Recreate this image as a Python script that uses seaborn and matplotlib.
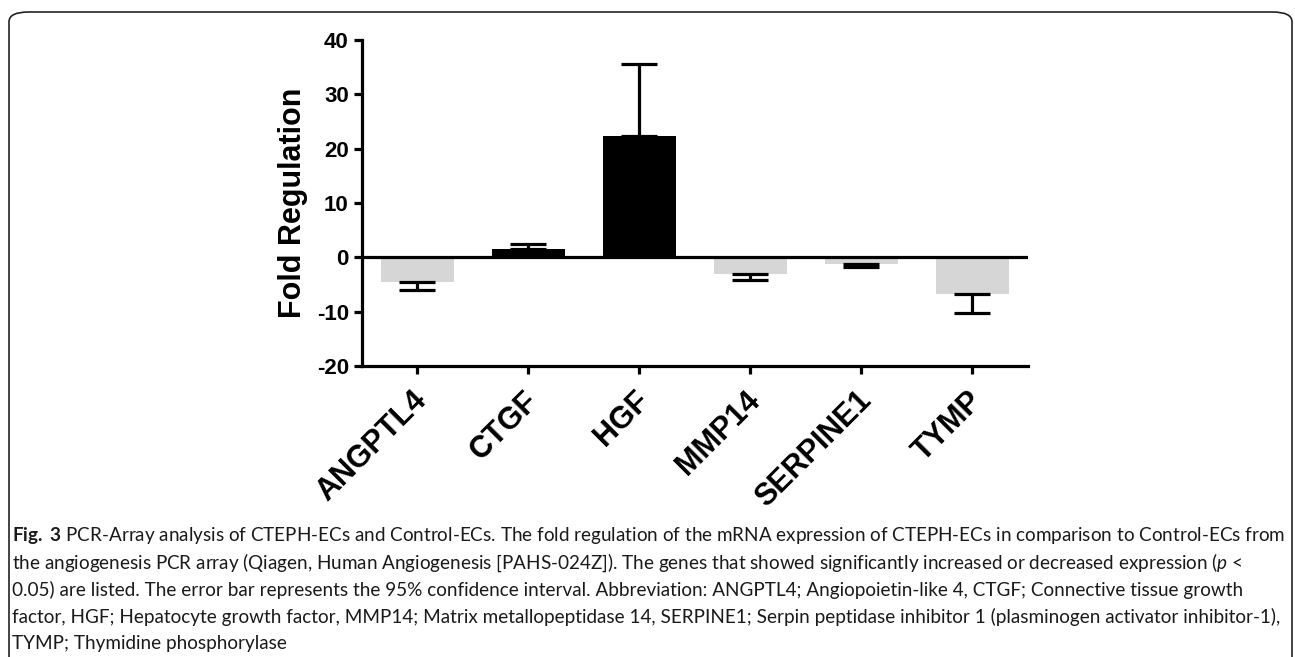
import numpy as np
import pandas as pd
import seaborn as sns
import matplotlib.pyplot as plt
from matplotlib.patches import FancyBboxPatch
from matplotlib.transforms import ScaledTranslation

# data
genes = ['ANGPTL4', 'CTGF', 'HGF', 'MMP14', 'SERPINE1', 'TYMP']
fold_regulation = [-4.5, 1.6, 22.3, -3.0, -1.3, -6.7]
ci_bound = [-6.1, 2.4, 35.5, -4.2, -1.7, -10.3]

caption_lines = [
    r"$\bf{Fig.\ 3}$ PCR-Array analysis of CTEPH-ECs and Control-ECs. The fold regulation of the mRNA expression of CTEPH-ECs in comparison to Control-ECs from",
    r"the angiogenesis PCR array (Qiagen, Human Angiogenesis [PAHS-024Z]). The genes that showed significantly increased or decreased expression ($\it{p}$ <",
    "0.05) are listed. The error bar represents the 95% confidence interval. Abbreviation: ANGPTL4; Angiopoietin-like 4, CTGF; Connective tissue growth",
    "factor, HGF; Hepatocyte growth factor, MMP14; Matrix metallopeptidase 14, SERPINE1; Serpin peptidase inhibitor 1 (plasminogen activator inhibitor-1),",
    "TYMP; Thymidine phosphorylase",
]

sns.set_style('ticks')
plt.rcParams['font.family'] = ['Liberation Sans', 'DejaVu Sans']
plt.rcParams['axes.unicode_minus'] = False
plt.rcParams['axes.edgecolor'] = 'black'
plt.rcParams['xtick.color'] = 'black'
plt.rcParams['ytick.color'] = 'black'
plt.rcParams['text.color'] = 'black'
plt.rcParams['axes.labelcolor'] = 'black'
plt.rcParams['mathtext.fontset'] = 'custom'
plt.rcParams['mathtext.rm'] = 'Lato'
plt.rcParams['mathtext.bf'] = 'Lato:bold'
plt.rcParams['mathtext.it'] = 'Lato:italic'

df = pd.DataFrame({'gene': genes, 'fold': fold_regulation, 'bound': ci_bound})
colors = ['black' if v > 0 else '#d6d6d6' for v in df['fold']]

fig = plt.figure(figsize=(12.95, 6.57), dpi=100)
ax = fig.add_axes([0.2795, 0.4429, 0.5143, 0.4962])

sns.barplot(data=df, x='gene', y='fold', hue='gene', palette=colors, legend=False,
            width=0.66, linewidth=0, errorbar=None, ax=ax)

# one-sided error bars, pointing away from zero
lower = np.where(df['fold'] < 0, df['fold'] - df['bound'], 0)
upper = np.where(df['fold'] > 0, df['bound'] - df['fold'], 0)
ax.errorbar(np.arange(len(genes)), df['fold'], yerr=[lower, upper], fmt='none',
            ecolor='black', elinewidth=2.3, capsize=13, capthick=2.3, zorder=3)

ax.axhline(0, color='black', lw=2.3, zorder=4)
ax.set_xlim(-0.5, len(genes) - 0.5)
ax.set_ylim(-20, 40)
ax.set_yticks(range(-20, 41, 10))
sns.despine(ax=ax)
for side in ['left', 'bottom']:
    ax.spines[side].set_linewidth(2.3)
ax.tick_params(width=2.3, length=6, labelsize=16)
for lab in ax.get_yticklabels():
    lab.set_fontweight('bold')
ax.set_xticks(range(len(genes)))
ax.set_xticklabels(genes, rotation=45, ha='right', rotation_mode='anchor',
                   fontweight='bold', fontsize=22)
ax.tick_params(axis='x', pad=8)
shift = ScaledTranslation(-4 / 72, 0, fig.dpi_scale_trans)
for lab in ax.get_xticklabels():
    lab.set_transform(lab.get_transform() + shift)
ax.set_xlabel('')
ax.set_ylabel('Fold Regulation', fontsize=22, fontweight='bold', labelpad=6)

# caption: fit the first line to the width it takes in the reference
renderer = fig.canvas.get_renderer()
probe = fig.text(0, 0, caption_lines[0], fontsize=14, family='Lato')
w = probe.get_window_extent(renderer).width
probe.remove()
cap_size = 14 * 1273 / w
for i, line in enumerate(caption_lines):
    fig.text(12 / 1295, 1 - (536 + 27 * i) / 657, line, fontsize=cap_size,
             family=['Lato', 'DejaVu Sans'], va='center', ha='left', color='#1a1a1a')

# rounded frame around everything
frame = FancyBboxPatch((9 / 1295, -0.05), 1283 / 1295, 1.05 - 12 / 657,
                       boxstyle='round,pad=0,rounding_size=0.015',
                       transform=fig.transFigure, fill=False, ec='#222222', lw=1.2)
fig.patches.append(frame)

fig.savefig('out.png', dpi=100)
